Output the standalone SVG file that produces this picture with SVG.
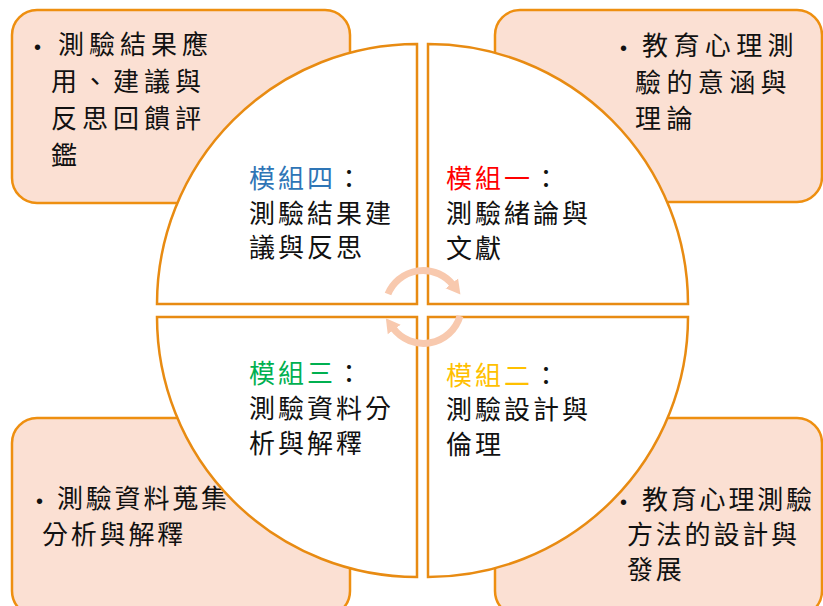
<svg xmlns="http://www.w3.org/2000/svg" width="823" height="606" viewBox="0 0 823 606">
<style>
.box{fill:#FBE0D3;stroke:#EE8F10;stroke-width:2.5}
.sec{fill:#FFFFFF;stroke:#E88B12;stroke-width:2.5}
.t{font-family:"Noto Sans CJK TC","Noto Sans CJK SC",sans-serif;font-size:26px;fill:#111111}
.b{font-family:"Liberation Sans",sans-serif;font-size:20px}
.arc{fill:none;stroke:#F8C9AE;stroke-width:7}
</style>
<defs>
<marker id="ah" markerUnits="userSpaceOnUse" markerWidth="20" markerHeight="20" viewBox="0 0 20 20" refX="2" refY="10" orient="auto">
<polygon points="0,2 14,10 0,18" fill="#F8C9AE"/>
</marker>
</defs>
<g id="box-tl"><rect class="box" x="12" y="10" width="338" height="193" rx="25"/>
<text class="t" y="54" letter-spacing="5"><tspan class="b" x="34">•</tspan><tspan x="58">測驗結果應</tspan></text>
<text class="t" x="51" y="91" letter-spacing="5">用、建議與</text>
<text class="t" x="51" y="128" letter-spacing="5">反思回饋評</text>
<text class="t" x="51" y="165" letter-spacing="5">鑑</text>
</g>
<g id="box-tr"><rect class="box" x="495" y="10" width="327" height="192" rx="25"/>
<text class="t" y="55" letter-spacing="5.4"><tspan class="b" x="620">•</tspan><tspan x="642">教育心理測</tspan></text>
<text class="t" x="635" y="92" letter-spacing="5.4">驗的意涵與</text>
<text class="t" x="635" y="128" letter-spacing="5.4">理論</text>
</g>
<g id="box-bl"><rect class="box" x="12" y="418" width="338" height="198" rx="25"/>
<text class="t" y="508" letter-spacing="2.8"><tspan class="b" x="36">•</tspan><tspan x="57">測驗資料蒐集</tspan></text>
<text class="t" x="42" y="544" letter-spacing="2.8">分析與解釋</text>
</g>
<g id="box-br"><rect class="box" x="495" y="418" width="327" height="198" rx="25"/>
<text class="t" y="509" letter-spacing="2.8"><tspan class="b" x="620">•</tspan><tspan x="642">教育心理測驗</tspan></text>
<text class="t" x="627" y="544" letter-spacing="2.8">方法的設計與</text>
<text class="t" x="627" y="579" letter-spacing="2.8">發展</text>
</g>
<g id="module-4"><path class="sec" d="M417 304 L157 304 A260 260 0 0 1 417 44 Z"/>
<text class="t" x="249" y="188" letter-spacing="3"><tspan fill="#2E75B6">模組四</tspan>：</text>
<text class="t" x="249" y="223" letter-spacing="3">測驗結果建</text>
<text class="t" x="249" y="257" letter-spacing="3">議與反思</text>
</g>
<g id="module-1"><path class="sec" d="M428 304 L428 44 A260 260 0 0 1 688 304 Z"/>
<text class="t" x="446" y="188" letter-spacing="3"><tspan fill="#FF0000">模組一</tspan>：</text>
<text class="t" x="446" y="223" letter-spacing="3">測驗緒論與</text>
<text class="t" x="446" y="258" letter-spacing="3">文獻</text>
</g>
<g id="module-3"><path class="sec" d="M417 317 L417 577 A260 260 0 0 1 157 317 Z"/>
<text class="t" x="249" y="383" letter-spacing="3"><tspan fill="#00B050">模組三</tspan>：</text>
<text class="t" x="249" y="418" letter-spacing="3">測驗資料分</text>
<text class="t" x="249" y="453" letter-spacing="3">析與解釋</text>
</g>
<g id="module-2"><path class="sec" d="M428 317 L688 317 A260 260 0 0 1 428 577 Z"/>
<text class="t" x="446" y="385" letter-spacing="3"><tspan fill="#FFC000">模組二</tspan>：</text>
<text class="t" x="446" y="419" letter-spacing="3">測驗設計與</text>
<text class="t" x="446" y="454" letter-spacing="3">倫理</text>
</g>
<g id="connectors">
<path class="arc" d="M388 294 A38 38 0 0 1 453 285" marker-end="url(#ah)"/>
<path class="arc" d="M460 316 A38 38 0 0 1 393 328" marker-end="url(#ah)"/>
</g>
</svg>
